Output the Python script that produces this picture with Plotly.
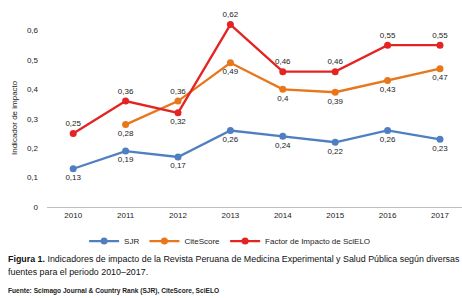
import plotly.graph_objects as go

years = ["2010", "2011", "2012", "2013", "2014", "2015", "2016", "2017"]
sjr = [0.13, 0.19, 0.17, 0.26, 0.24, 0.22, 0.26, 0.23]
citescore = [None, 0.28, 0.36, 0.49, 0.40, 0.39, 0.43, 0.47]
scielo = [0.25, 0.36, 0.32, 0.62, 0.46, 0.46, 0.55, 0.55]
y_ticks = [0, 0.1, 0.2, 0.3, 0.4, 0.5, 0.6]

cite_pos = ["bottom center", "bottom center", "top center", "bottom center", "bottom center",
            "bottom center", "bottom center", "bottom center"]
scielo_pos = ["top center", "top center", "bottom center", "top center", "top center",
              "top center", "top center", "top center"]

def lab(vals):
    return ["" if v is None else ("%g" % v).replace(".", ",") for v in vals]

W, H = 462, 298
L, R, T, B = 47, 0, 1, 91
FONT = "Liberation Sans, Arial, sans-serif"

xs = list(range(len(years)))
fig = go.Figure()
series = [
    ("SJR", sjr, "#4F7FC1", ["bottom center"] * 8),
    ("CiteScore", citescore, "#E8761A", cite_pos),
    ("Factor de Impacto de SciELO", scielo, "#E42423", scielo_pos),
]
for name, vals, col, pos in series:
    fig.add_trace(go.Scatter(
        x=xs, y=vals, name=name, mode="lines+markers+text",
        line=dict(color=col, width=2.3), marker=dict(color=col, size=7),
        text=lab(vals), textposition=pos,
        textfont=dict(family=FONT, size=8, color="#222"),
        cliponaxis=False,
    ))

fig.update_layout(
    width=W, height=H, margin=dict(l=L, r=R, t=T, b=B, autoexpand=False),
    paper_bgcolor="white", plot_bgcolor="white",
    separators=",.",
    font=dict(family=FONT, size=8, color="#222"),
    showlegend=True,
    legend=dict(orientation="h", x=0.44, xanchor="center", y=-0.095, yanchor="top",
                font=dict(size=8, color="#222"), itemwidth=30, tracegroupgap=0),
    xaxis=dict(range=[-0.5, 7.42], tickvals=xs, ticktext=years, showgrid=False,
               zeroline=False, showline=True, linecolor="#BFBFBF", linewidth=1,
               ticks="", automargin=False, tickfont=dict(size=8, color="#222")),
    yaxis=dict(range=[0, 0.7], tickvals=y_ticks,
               ticktext=[("%g" % v).replace(".", ",") for v in y_ticks],
               showgrid=False, zeroline=False, showline=False, ticks="", automargin=False,
               ticklabelstandoff=8, tickfont=dict(size=8, color="#222")),
)

ph = H - T - B
pw = W - L - R
def px(x): return (x - L) / pw
def py(y): return (H - B - y) / ph

fig.add_annotation(xref="paper", yref="paper", x=px(14), y=py(118), xanchor="center", yanchor="middle",
                   showarrow=False, textangle=-90, text="Indicador de impacto",
                   font=dict(family=FONT, size=8, color="#222"))
fig.add_annotation(xref="paper", yref="paper", x=px(6), y=py(252), xanchor="left", yanchor="top",
                   showarrow=False, align="left",
                   text="<b>Figura 1.</b> Indicadores de impacto de la Revista Peruana de Medicina Experimental y Salud Pública según diversas",
                   font=dict(family=FONT, size=8.9, color="#111"))
fig.add_annotation(xref="paper", yref="paper", x=px(6), y=py(265), xanchor="left", yanchor="top",
                   showarrow=False, align="left",
                   text="fuentes para el periodo 2010–2017.",
                   font=dict(family=FONT, size=8.9, color="#111"))
fig.add_annotation(xref="paper", yref="paper", x=px(6), y=py(285), xanchor="left", yanchor="top",
                   showarrow=False, align="left",
                   text="<b>Fuente: Scimago Journal & Country Rank (SJR), CiteScore, SciELO</b>",
                   font=dict(family=FONT, size=6.6, color="#222"))

fig.write_html("out.html", config={"displayModeBar": False},
               post_script="document.body.style.margin='0';document.body.style.overflow='hidden';")
